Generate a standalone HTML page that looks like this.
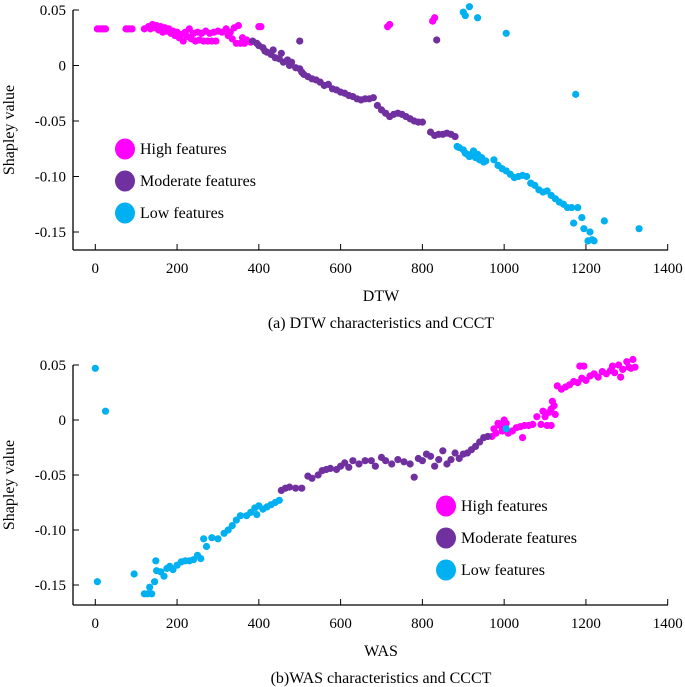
<!DOCTYPE html>
<html><head><meta charset="utf-8"><style>
html,body{margin:0;padding:0;background:#fff;}
svg{display:block;font-family:"Liberation Serif",serif;}
</style></head><body>
<svg id="fig" width="685" height="687" viewBox="0 0 685 687"></svg>
<script>
// Shared axis config
const xTicks = [0,200,400,600,800,1000,1200,1400];
const yTicks = [0.05,0,-0.05,-0.10,-0.15];
const yTickLabels = ["0.05","0","-0.05","-0.10","-0.15"];
const seriesNames = ["High features","Moderate features","Low features"];
const seriesColors = ["#ff00ff","#7030a0","#00b0f0"];

// Chart (a) DTW data
const dtwHigh = [[5,0.033],[10,0.033],[15,0.033],[20,0.033],[25,0.033],[75,0.033],[80,0.033],[85,0.033],[90,0.033],
[120,0.033],[130,0.035],[135,0.033],[140,0.037],[145,0.034],[150,0.036],[155,0.032],[160,0.035],[165,0.03],[170,0.034],[175,0.031],[180,0.033],[185,0.029],[190,0.031],[195,0.027],[200,0.03],[205,0.025],[210,0.028],[215,0.022],[220,0.03],[225,0.026],[230,0.033],[235,0.024],[240,0.029],[245,0.022],[250,0.03],[255,0.023],[260,0.029],[265,0.022],[270,0.031],[275,0.022],[280,0.029],[285,0.022],[290,0.03],[295,0.022],[300,0.031],[310,0.03],[320,0.033],[325,0.027],[330,0.03],[335,0.024],[340,0.034],[345,0.02],[350,0.036],[355,0.02],[360,0.025],[365,0.02],[370,0.023],[380,0.021],[400,0.035],[405,0.035],[715,0.035],[720,0.037],[825,0.04],[830,0.043]];
const dtwModerate = [[385,0.022],[395,0.02],[400,0.018],[410,0.016],[415,0.013],[420,0.012],[430,0.01],[435,0.014],[440,0.007],[450,0.006],[455,0.011],[460,0.003],[470,0.005],[475,0.0],[480,0.003],[490,-0.002],[500,-0.003],[505,-0.006],[510,-0.008],[520,-0.01],[530,-0.012],[540,-0.013],[550,-0.015],[560,-0.018],[570,-0.017],[580,-0.021],[590,-0.022],[600,-0.024],[610,-0.025],[620,-0.027],[630,-0.028],[640,-0.03],[650,-0.031],[660,-0.03],[670,-0.03],[680,-0.029],[690,-0.036],[700,-0.04],[710,-0.043],[720,-0.046],[730,-0.044],[740,-0.043],[750,-0.044],[760,-0.046],[770,-0.048],[780,-0.05],[790,-0.051],[800,-0.051],[820,-0.06],[830,-0.063],[840,-0.062],[850,-0.062],[860,-0.061],[870,-0.062],[880,-0.064],[500,0.022],[835,0.023]];
const dtwLow = [[885,-0.073],[890,-0.074],[900,-0.076],[905,-0.079],[910,-0.08],[915,-0.082],[920,-0.08],[925,-0.077],[930,-0.083],[935,-0.08],[940,-0.085],[945,-0.083],[950,-0.087],[955,-0.086],[975,-0.085],[985,-0.09],[995,-0.093],[1005,-0.095],[1015,-0.098],[1025,-0.101],[1035,-0.1],[1045,-0.099],[1055,-0.1],[1065,-0.106],[1075,-0.108],[1085,-0.112],[1095,-0.114],[1105,-0.113],[1115,-0.117],[1125,-0.12],[1135,-0.123],[1145,-0.125],[1155,-0.128],[1165,-0.128],[1180,-0.128],[1190,-0.137],[1170,-0.142],[1195,-0.147],[1210,-0.15],[1205,-0.158],[1215,-0.157],[1220,-0.158],[1245,-0.14],[1330,-0.147],[900,0.048],[905,0.045],[915,0.053],[935,0.043],[1005,0.029],[1175,-0.026]];

// Chart (b) WAS data
const wasHigh = [[970,-0.015],[975,-0.008],[980,-0.012],[985,-0.003],[990,-0.005],[995,-0.01],[1000,0.0],[1005,-0.003],[1010,-0.012],[1020,-0.01],[1030,-0.007],[1040,-0.006],[1045,-0.016],[1050,-0.005],[1060,-0.005],[1070,-0.004],[1080,0.003],[1090,-0.004],[1095,0.008],[1100,0.003],[1105,-0.005],[1110,0.007],[1115,0.01],[1118,0.017],[1122,0.013],[1125,0.005],[1115,-0.005],[1130,0.031],[1140,0.028],[1150,0.03],[1160,0.032],[1170,0.035],[1180,0.034],[1185,0.049],[1190,0.038],[1195,0.049],[1200,0.036],[1210,0.04],[1220,0.042],[1230,0.039],[1240,0.044],[1250,0.042],[1260,0.045],[1265,0.049],[1270,0.043],[1280,0.05],[1285,0.039],[1290,0.046],[1300,0.053],[1305,0.048],[1310,0.047],[1320,0.048],[1315,0.055]];
const wasModerate = [[455,-0.064],[465,-0.062],[475,-0.061],[490,-0.062],[505,-0.062],[520,-0.051],[530,-0.053],[545,-0.05],[555,-0.046],[565,-0.045],[575,-0.044],[590,-0.045],[600,-0.042],[610,-0.039],[620,-0.043],[630,-0.037],[645,-0.04],[660,-0.037],[675,-0.037],[685,-0.042],[700,-0.034],[710,-0.037],[725,-0.04],[740,-0.036],[755,-0.038],[770,-0.04],[780,-0.052],[790,-0.035],[800,-0.037],[810,-0.031],[820,-0.033],[830,-0.042],[840,-0.036],[850,-0.028],[860,-0.04],[870,-0.036],[880,-0.03],[890,-0.035],[900,-0.031],[910,-0.03],[920,-0.027],[930,-0.024],[940,-0.02],[950,-0.016],[960,-0.015]];
const wasLow = [[0,0.047],[25,0.008],[5,-0.147],[95,-0.14],[120,-0.158],[128,-0.158],[133,-0.152],[138,-0.158],[145,-0.147],[148,-0.128],[150,-0.137],[160,-0.138],[168,-0.142],[175,-0.135],[182,-0.133],[190,-0.136],[200,-0.132],[210,-0.129],[220,-0.128],[230,-0.128],[240,-0.127],[250,-0.123],[258,-0.126],[265,-0.108],[272,-0.115],[285,-0.107],[300,-0.108],[315,-0.103],[325,-0.1],[335,-0.096],[345,-0.091],[355,-0.087],[370,-0.087],[380,-0.084],[390,-0.08],[395,-0.086],[400,-0.078],[410,-0.081],[420,-0.079],[430,-0.077],[440,-0.075],[450,-0.073],[1005,-0.008]];

const NS="http://www.w3.org/2000/svg";
const svg=document.getElementById('fig');
function mk(tag,attrs,parent,text){const e=document.createElementNS(NS,tag);for(const k in attrs)e.setAttribute(k,attrs[k]);if(text!==undefined)e.textContent=text;parent.appendChild(e);return e;}

function drawChart(cfg){
  const g=mk('g',{},svg);
  
  
  const x0=95.3, x1=667.7, axL=73, axR=668;
  const xs=v=>x0+(v/1400)*(x1-x0);
  const yScale=v=>cfg.y0-(v/0.05)*(cfg.y0-cfg.y05);
  const axY=mk('line',{x1:axL,y1:cfg.y05,x2:axL,y2:cfg.bottom,stroke:'#000','stroke-width':1.3},g);
  
  
  const axX=mk('line',{x1:axL,y1:cfg.bottom,x2:axR,y2:cfg.bottom,stroke:'#000','stroke-width':1.3},g);
  
  
  xTicks.forEach(t=>{
    const X=xs(t);
    mk('line',{x1:X,y1:cfg.bottom,x2:X,y2:cfg.bottom-6,stroke:'#000','stroke-width':1},g);
    const tl=mk('text',{x:X,y:cfg.bottom+23,'text-anchor':'middle','font-size':15},g,String(t));
    
    
  });
  yTicks.forEach((t,i)=>{
    const Y=yScale(t);
    mk('line',{x1:axL,y1:Y,x2:axL+6,y2:Y,stroke:'#000','stroke-width':1},g);
    const tl=mk('text',{x:axL-7,y:Y+5,'text-anchor':'end','font-size':15},g,yTickLabels[i]);
    
    
  });
  const yt=mk('text',{x:14,y:(cfg.y05+cfg.bottom)/2,'text-anchor':'middle','font-size':16,transform:`rotate(-90 14 ${(cfg.y05+cfg.bottom)/2})`},g,'Shapley value');
  
  
  const xt=mk('text',{x:381,y:cfg.bottom+51,'text-anchor':'middle','font-size':16},g,cfg.xlabel);
  
  
  const cap=mk('text',{x:381,y:cfg.bottom+78,'text-anchor':'middle','font-size':16},g,cfg.caption);
  
  
  cfg.series.forEach((arr,si)=>{
    arr.forEach(p=>{
      const c=mk('circle',{cx:xs(p[0]),cy:yScale(p[1]),r:3.6,fill:seriesColors[si]},g);
      
      
    });
  });
  seriesNames.forEach((n,i)=>{
    const Y=cfg.legY+i*32;
    const c=mk('ellipse',{cx:cfg.legX,cy:Y,rx:10,ry:10.5,fill:seriesColors[i]},g);
    
    
    const t=mk('text',{x:cfg.legX+15,y:Y+5,'font-size':16},g,n);
    
    
  });
}
drawChart({name:'dtw-chart',y05:10,y0:65.5,bottom:250,xlabel:'DTW',caption:'(a) DTW characteristics and CCCT',series:[dtwHigh,dtwModerate,dtwLow],legX:125,legY:149});
drawChart({name:'was-chart',y05:365,y0:420,bottom:605,xlabel:'WAS',caption:'(b)WAS characteristics and CCCT',series:[wasHigh,wasModerate,wasLow],legX:446,legY:506});
</script>
</body></html>
